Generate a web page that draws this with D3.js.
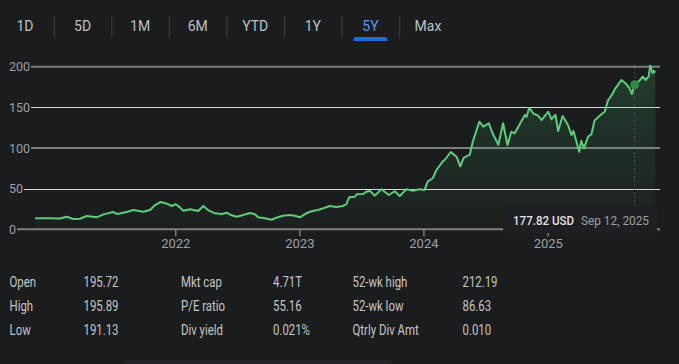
<!DOCTYPE html>
<html>
<head>
<meta charset="utf-8">
<script src="https://cdn.jsdelivr.net/npm/d3@7"></script>
<style>
  html, body { margin: 0; padding: 0; background: #1b1c1e; }
  svg { display: block; font-family: Roboto, "Noto Sans", sans-serif; }
</style>
</head>
<body>
<div id="chart"></div>
<script>
// Range tabs
var tabs = ["1D", "5D", "1M", "6M", "YTD", "1Y", "5Y", "Max"];
var activeTab = "5Y";

// Price series
var dates = ["2020-11-13","2020-12-27",
  "2021-01-25","2021-02-14","2021-03-05","2021-03-25","2021-04-14","2021-05-13","2021-06-02","2021-07-01","2021-07-13","2021-08-10","2021-08-29","2021-09-27","2021-10-17","2021-11-01","2021-11-17","2021-12-09","2021-12-19",
  "2022-01-01","2022-01-13","2022-01-23","2022-02-12","2022-03-08","2022-03-23","2022-04-06","2022-04-26","2022-05-16","2022-05-31","2022-06-14","2022-06-29","2022-07-18","2022-08-07","2022-08-22","2022-08-31","2022-09-20","2022-10-10","2022-10-24","2022-11-12","2022-12-02","2022-12-17",
  "2023-01-01","2023-01-20","2023-02-04","2023-02-23","2023-03-10","2023-03-30","2023-04-18","2023-05-08","2023-05-18","2023-05-26","2023-06-12","2023-06-17","2023-07-06","2023-07-16","2023-07-26","2023-08-09","2023-08-29","2023-09-20","2023-10-07","2023-10-22","2023-11-10","2023-11-30","2023-12-19",
  "2024-01-03","2024-01-12","2024-01-27","2024-02-07","2024-02-26","2024-03-02","2024-03-20","2024-04-06","2024-04-17","2024-04-27","2024-05-15","2024-05-24","2024-06-12","2024-06-24","2024-07-10","2024-07-21","2024-08-07","2024-08-21","2024-09-03","2024-09-14","2024-09-24","2024-10-06","2024-10-24","2024-10-29","2024-11-06","2024-11-18","2024-12-02","2024-12-12",
  "2025-01-01","2025-01-10","2025-01-22","2025-01-30","2025-02-12","2025-02-28","2025-03-10","2025-03-16","2025-04-02","2025-04-08","2025-04-16","2025-04-28","2025-05-08","2025-05-17","2025-06-06","2025-06-16","2025-06-25","2025-07-10","2025-07-15","2025-08-04","2025-08-18","2025-08-28","2025-09-04","2025-09-12","2025-09-28","2025-10-06","2025-10-15","2025-10-23","2025-10-28","2025-11-04","2025-11-07","2025-11-12"];
var prices = [13.5,13.5,
  13.3,15.5,12.7,13,16.4,14.7,18.4,21.3,18.8,21.3,23.7,21.7,23.7,29.9,33.6,31.1,28.7,
  30.8,27,22.9,24.6,22.5,28.7,23.7,19.7,18.8,20.4,17.2,15.5,17.6,20.1,18.5,14.8,13.5,11.8,14.3,16.7,17.6,16.7,
  14.8,19.7,22.2,23.7,25.8,28.7,27.4,28.7,31.1,39.4,40.1,43,43.4,46.3,47.5,41.4,49.2,42.2,46.8,41,49.2,47.5,49.2,
  48.5,58.6,62.8,73,84,85.3,95,89.4,77.5,88,92,108,132.4,126.3,130.5,118.2,104,130.5,103.8,120,118.2,127,140.7,138.6,149.5,142.5,140,134.5,
  144.7,135.5,141,121,139.5,128.4,116,121,95.5,109,99.7,114,117,134,141.5,144.7,158,167.4,172,183.8,179,173.5,166.5,177.82,183.8,187.8,183.8,187.8,201.4,192,195,193];

var yTicks = [0, 50, 100, 150, 200];
var yearTicks = ["2022", "2023", "2024", "2025"];

// hovered point
var hoverDate = "2025-09-12";
var hoverPrice = 177.82;
var hoverCurrency = "USD";
var hoverLabel = "Sep 12, 2025";

// key stats, three columns
var statLabels1 = ["Open", "High", "Low"];
var statValues1 = ["195.72", "195.89", "191.13"];
var statLabels2 = ["Mkt cap", "P/E ratio", "Div yield"];
var statValues2 = ["4.71T", "55.16", "0.021%"];
var statLabels3 = ["52-wk high", "52-wk low", "Qtrly Div Amt"];
var statValues3 = ["212.19", "86.63", "0.010"];

var W = 679, H = 364;
var parse = d3.timeParse("%Y-%m-%d");
var series = d3.zip(dates, prices).map(function(d) { return {date: parse(d[0]), value: d[1]}; });

var svg = d3.select("#chart").append("svg").attr("width", W).attr("height", H);

// ---- tabs
var tabX = d3.scalePoint().domain(tabs).range([25, 428]);
var gt = svg.append("g").attr("class", "tabs");
gt.selectAll("text").data(tabs).enter().append("text")
  .attr("x", function(d) { return tabX(d); })
  .attr("y", 30.5)
  .attr("text-anchor", "middle")
  .attr("font-size", 14)
  .attr("fill", function(d) { return d == activeTab ? "#5a97f5" : "#bdc1c6"; })
  .text(function(d) { return d; });
gt.selectAll("line").data(tabs.slice(1)).enter().append("line")
  .attr("x1", function(d) { return tabX(d) - tabX.step() / 2 + 0.5; })
  .attr("x2", function(d) { return tabX(d) - tabX.step() / 2 + 0.5; })
  .attr("y1", 16).attr("y2", 38)
  .attr("stroke", "#3c4043");
gt.append("path")
  .attr("d", function() {
    var cx = tabX(activeTab), w = 34;
    return "M" + (cx - w / 2) + ",41 v-1.5 a2.5,2.5 0 0 1 2.5,-2.5 h" + (w - 5) + " a2.5,2.5 0 0 1 2.5,2.5 v1.5 z";
  })
  .attr("fill", "#1f6ad8");

// ---- scales
var x = d3.scaleTime()
  .domain([parse("2022-01-01"), parse("2025-01-01")])
  .range([175.8, 548.3]);
var y = d3.scaleLinear().domain([0, 200]).range([229.3, 66.8]);
var xRight = 660;

// gradient under the line
var defs = svg.append("defs");
var grad = defs.append("linearGradient").attr("id", "areaGrad")
  .attr("gradientUnits", "userSpaceOnUse")
  .attr("x1", 0).attr("x2", 0).attr("y1", y(200)).attr("y2", y(0));
grad.append("stop").attr("offset", 0).attr("stop-color", "#3cb063").attr("stop-opacity", 0.22);
grad.append("stop").attr("offset", 1).attr("stop-color", "#3cb063").attr("stop-opacity", 0.02);

// ---- y grid + labels
var gy = svg.append("g").attr("class", "y-grid");
yTicks.forEach(function(t, i) {
  var lbl = gy.append("text")
    .attr("x", 9).attr("y", y(t)).attr("dy", "0.36em")
    .attr("font-size", 12.5).attr("fill", "#9aa0a6")
    .text(t);
  var tw = lbl.node().getComputedTextLength();
  var major = (i % 2 == 0);
  gy.append("line")
    .attr("x1", 9 + tw + 1).attr("x2", xRight)
    .attr("y1", major ? y(t) : Math.round(y(t)) + 0.5)
    .attr("y2", major ? y(t) : Math.round(y(t)) + 0.5)
    .attr("stroke", major ? "#7d7f80" : "#dcdcdc")
    .attr("stroke-width", major ? 2 : 1);
});

// year ticks
var gx = svg.append("g").attr("class", "x-axis");
gx.selectAll("line").data(yearTicks).enter().append("line")
  .attr("x1", function(d) { return x(parse(d + "-01-01")); })
  .attr("x2", function(d) { return x(parse(d + "-01-01")); })
  .attr("y1", y(0)).attr("y2", y(0) + 7)
  .attr("stroke", "#7d7f80").attr("stroke-width", 1.5);
gx.selectAll("text").data(yearTicks).enter().append("text")
  .attr("x", function(d) { return x(parse(d + "-01-01")); })
  .attr("y", 248)
  .attr("text-anchor", "middle")
  .attr("font-size", 13).attr("fill", "#9aa0a6")
  .text(function(d) { return d; });

// ---- area + line
var area = d3.area()
  .x(function(d) { return x(d.date); })
  .y0(y(0)).y1(function(d) { return y(d.value); });
var line = d3.line()
  .x(function(d) { return x(d.date); })
  .y(function(d) { return y(d.value); });

svg.append("path").datum(series)
  .attr("d", area)
  .attr("fill", "url(#areaGrad)");
svg.append("path").datum(series)
  .attr("d", line)
  .attr("fill", "none")
  .attr("stroke", "#5ccd7b")
  .attr("stroke-width", 2)
  .attr("stroke-linejoin", "round");

// ---- hover marker
var hx = x(parse(hoverDate));
svg.append("line")
  .attr("x1", hx).attr("x2", hx).attr("y1", 64).attr("y2", 208)
  .attr("stroke", "#4a4c50").attr("stroke-dasharray", "2,2");
svg.append("circle")
  .attr("cx", hx).attr("cy", y(hoverPrice)).attr("r", 4.5)
  .attr("fill", "#2f8a47");

// tooltip box
var tip = svg.append("g").attr("class", "tip");
tip.append("rect")
  .attr("x", 503).attr("y", 207).attr("width", 154).attr("height", 26).attr("rx", 2)
  .attr("fill", "#1e1f22");
tip.append("text")
  .attr("x", 513).attr("y", 224.5)
  .attr("font-size", 12.5).attr("font-weight", 500).attr("fill", "#e3e3e3")
  .attr("textLength", 61).attr("lengthAdjust", "spacingAndGlyphs")
  .text(d3.format(".2f")(hoverPrice) + " " + hoverCurrency);
tip.append("text")
  .attr("x", 581).attr("y", 224.5)
  .attr("font-size", 12.5).attr("fill", "#9aa0a6")
  .attr("textLength", 68).attr("lengthAdjust", "spacingAndGlyphs")
  .text(hoverLabel);

// ---- key stats table
var rowY = [286.7, 310.7, 334.7];
function statColumn(labels, values, xl, xv) {
  var g = svg.append("g");
  labels.forEach(function(l, i) {
    g.append("text")
      .attr("transform", "translate(" + xl + "," + rowY[i] + ") scale(0.76,1)")
      .attr("font-size", 15).attr("fill", "#c4c7c5")
      .text(l);
    g.append("text")
      .attr("transform", "translate(" + xv + "," + rowY[i] + ") scale(0.76,1)")
      .attr("font-size", 15).attr("fill", "#c4c7c5")
      .text(values[i]);
  });
}
statColumn(statLabels1, statValues1, 9.5, 83.5);
statColumn(statLabels2, statValues2, 181, 273);
statColumn(statLabels3, statValues3, 352.5, 462.5);

// bottom card edge
svg.append("rect")
  .attr("x", 123).attr("y", 360).attr("width", 270).attr("height", 12).attr("rx", 6)
  .attr("fill", "#232427");
</script>
</body>
</html>
